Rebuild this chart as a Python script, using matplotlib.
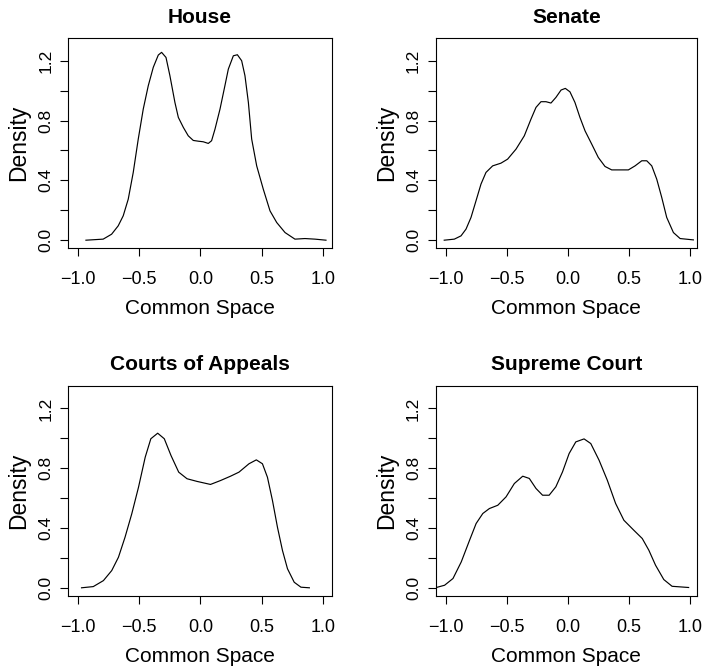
import numpy as np
import matplotlib
matplotlib.use("Agg")
import matplotlib.pyplot as plt

plt.rcParams['font.family'] = ['Liberation Sans', 'DejaVu Sans']

# density curves (x in common space, y = density)
house_x = [-0.937, -0.796, -0.727, -0.673, -0.632, -0.591, -0.550, -0.509, -0.468, -0.427,
           -0.386, -0.345, -0.318, -0.282, -0.250, -0.209, -0.181, -0.140, -0.100, -0.059,
           -0.018, 0.023, 0.064, 0.091, 0.119, 0.160, 0.200, 0.228, 0.269, 0.302,
           0.337, 0.364, 0.392, 0.419, 0.460, 0.514, 0.569, 0.624, 0.692, 0.773,
           0.855, 0.937, 1.027]
house_y = [0.0, 0.007, 0.040, 0.096, 0.163, 0.274, 0.453, 0.676, 0.877, 1.033,
           1.156, 1.238, 1.256, 1.222, 1.100, 0.921, 0.821, 0.754, 0.698, 0.667,
           0.662, 0.658, 0.647, 0.665, 0.743, 0.877, 1.033, 1.144, 1.233, 1.240,
           1.200, 1.100, 0.921, 0.676, 0.497, 0.341, 0.196, 0.118, 0.051, 0.007,
           0.011, 0.007, 0.0]

senate_x = [-1.017, -0.934, -0.879, -0.838, -0.797, -0.756, -0.715, -0.674, -0.619, -0.551,
            -0.496, -0.427, -0.359, -0.304, -0.263, -0.222, -0.181, -0.140, -0.099, -0.057,
            -0.022, 0.016, 0.057, 0.098, 0.140, 0.195, 0.249, 0.304, 0.359, 0.427,
            0.496, 0.551, 0.606, 0.647, 0.688, 0.729, 0.770, 0.811, 0.866, 0.921,
            1.030]
senate_y = [0.0, 0.007, 0.029, 0.074, 0.152, 0.263, 0.375, 0.453, 0.497, 0.515,
            0.542, 0.609, 0.698, 0.810, 0.888, 0.926, 0.926, 0.917, 0.955, 1.004,
            1.015, 0.992, 0.921, 0.821, 0.731, 0.642, 0.553, 0.493, 0.470, 0.470,
            0.470, 0.497, 0.531, 0.531, 0.497, 0.408, 0.286, 0.152, 0.051, 0.011,
            0.002]

appeals_x = [-0.973, -0.877, -0.794, -0.726, -0.671, -0.617, -0.562, -0.507, -0.452, -0.406,
             -0.350, -0.296, -0.241, -0.178, -0.110, -0.027, 0.082, 0.164, 0.246, 0.315,
             0.397, 0.457, 0.507, 0.548, 0.589, 0.630, 0.671, 0.712, 0.767, 0.822,
             0.891]
appeals_y = [0.003, 0.011, 0.051, 0.118, 0.207, 0.341, 0.497, 0.674, 0.875, 0.998,
             1.035, 0.998, 0.886, 0.775, 0.731, 0.713, 0.693, 0.719, 0.748, 0.775,
             0.831, 0.857, 0.831, 0.741, 0.586, 0.407, 0.252, 0.130, 0.040, 0.007,
             0.003]

supreme_x = [-1.082, -1.014, -0.945, -0.877, -0.809, -0.755, -0.700, -0.646, -0.577, -0.509,
             -0.441, -0.372, -0.318, -0.263, -0.209, -0.155, -0.100, -0.045, 0.009, 0.064,
             0.132, 0.187, 0.255, 0.323, 0.391, 0.459, 0.541, 0.610, 0.664, 0.719,
             0.787, 0.855, 0.991]
supreme_y = [0.005, 0.020, 0.065, 0.176, 0.320, 0.432, 0.499, 0.532, 0.554, 0.610,
             0.699, 0.748, 0.733, 0.666, 0.621, 0.621, 0.677, 0.777, 0.899, 0.977,
             0.997, 0.966, 0.855, 0.721, 0.566, 0.454, 0.387, 0.332, 0.254, 0.154,
             0.058, 0.013, 0.005]

titles = ["House", "Senate", "Courts of Appeals", "Supreme Court"]
x_ticks = [-1.0, -0.5, 0.0, 0.5, 1.0]
x_labels = ["\u22121.0", "\u22120.5", "0.0", "0.5", "1.0"]
y_ticks = [0.0, 0.2, 0.4, 0.6, 0.8, 1.0, 1.2]
y_labels = ["0.0", "", "0.4", "", "0.8", "", "1.2"]

series = [(house_x, house_y), (senate_x, senate_y),
          (appeals_x, appeals_y), (supreme_x, supreme_y)]

# axes boxes in figure fraction [left, bottom, width, height]
boxes = [[0.0960, 0.6299, 0.3729, 0.3134],
         [0.6154, 0.6299, 0.3691, 0.3134],
         [0.0960, 0.1104, 0.3729, 0.3139],
         [0.6154, 0.1104, 0.3691, 0.3139]]
xlims = [(-1.084, 1.076), (-1.087, 1.060), (-1.084, 1.076), (-1.087, 1.060)]

fig = plt.figure(figsize=(7.08, 6.70), dpi=100)
for (xs, ys), title, box, xl in zip(series, titles, boxes, xlims):
    ax = fig.add_axes(box)
    ax.plot(xs, ys, '-', color='black', linewidth=0.85)
    ax.set_xlim(*xl)
    ax.set_ylim(-0.052, 1.352)
    ax.set_xticks(x_ticks)
    ax.set_xticklabels(x_labels, fontsize=13)
    ax.set_yticks(y_ticks)
    ax.set_yticklabels(y_labels, rotation=90, va='center', fontsize=12.5)
    ax.tick_params(axis='both', direction='out', length=6, width=0.8, color='black')
    ax.tick_params(axis='x', pad=10.5)
    ax.tick_params(axis='y', pad=4.5)
    for sp in ax.spines.values():
        sp.set_linewidth(0.8)
    ax.set_title(title, fontsize=15, fontweight='bold', pad=11)
    ax.set_xlabel("Common Space", fontsize=15, labelpad=8)
    ax.set_ylabel("Density", fontsize=16.5, labelpad=6)

fig.savefig("out.png", dpi=100)
